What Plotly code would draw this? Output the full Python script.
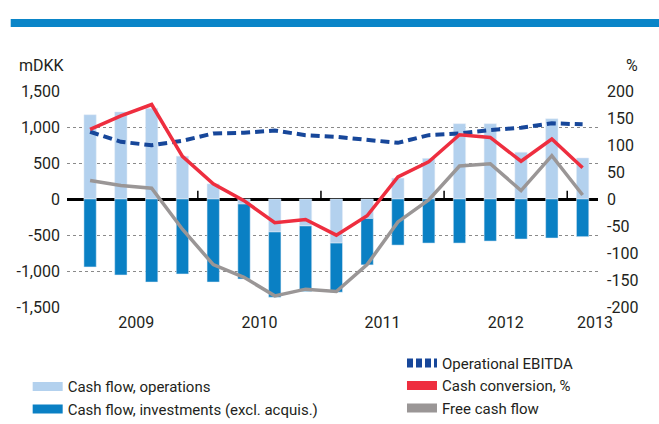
import plotly.graph_objects as go

# ---------------- data ----------------
quarters = ["Q1 2009", "Q2 2009", "Q3 2009", "Q4 2009",
            "Q1 2010", "Q2 2010", "Q3 2010", "Q4 2010",
            "Q1 2011", "Q2 2011", "Q3 2011", "Q4 2011",
            "Q1 2012", "Q2 2012", "Q3 2012", "Q4 2012",
            "Q1 2013"]
cash_flow_operations = [1170, 1210, 1260, 595, 210, -70, -458, -374, -612,
                        -271, 290, 565, 1046, 1046, 649, 1115, 570]
cash_flow_investments = [-943, -1055, -1153, -1041, -1153, -1041, -906, -910, -682,
                         -644, -640, -612, -612, -584, -556, -542, -523]
operational_ebitda = [934, 794, 747, 808, 910, 920, 950, 887, 864,
                      817, 780, 887, 910, 957, 990, 1051, 1037]
cash_conversion_pct = [129, 154, 175, 79, 28, -3, -44, -38, -67,
                       -31, 41, 69, 119, 114, 70, 111, 58]
free_cash_flow = [257, 187, 150, -420, -911, -1088, -1345, -1252, -1284,
                  -911, -318, -14, 458, 490, 117, 602, 56]

year_labels = ["2009", "2010", "2011", "2012", "2013"]
left_tick_vals = [1500, 1000, 500, 0, -500, -1000, -1500]
left_tick_text = ["1,500", "1,000", "500", "0", "-500", "-1,000", "-1,500"]
right_tick_vals = [200, 150, 100, 50, 0, -50, -100, -150, -200]
right_tick_text = ["200", "150", "100", "50", "0", "-50", "-100", "-150", "-200"]

# ---------------- styling ----------------
C_OPS = "#b3d1ee"
C_INV = "#0a80c4"
C_EBITDA = "#17479a"
C_CONV = "#ee2e3f"
C_FCF = "#9a9696"
C_TEXT = "#231f20"
FONT = "Liberation Sans Narrow, Roboto, sans-serif"

x = list(range(len(quarters)))

# year label positions: centre of each year's quarters
year_pos = []
for yl in year_labels:
    idx = [i for i, q in enumerate(quarters) if q.endswith(yl)]
    year_pos.append(sum(idx) / len(idx))
year_pos[-1] += 0.4
# year boundaries
bounds = [i - 0.5 for i in range(1, len(quarters)) if quarters[i][-4:] != quarters[i - 1][-4:]]

fig = go.Figure()
fig.add_trace(go.Bar(x=x, y=cash_flow_operations, marker_color=C_OPS, width=0.4,
                     name="Cash flow, operations", showlegend=False))
fig.add_trace(go.Bar(x=x, y=cash_flow_investments, marker_color=C_INV, width=0.4,
                     name="Cash flow, investments (excl. acquis.)", showlegend=False))
fig.add_trace(go.Scatter(x=x, y=free_cash_flow, mode="lines",
                         line=dict(color=C_FCF, width=3.5), name="Free cash flow",
                         showlegend=False))
fig.add_trace(go.Scatter(x=x, y=operational_ebitda, mode="lines",
                         line=dict(color=C_EBITDA, width=4, dash="9px,5px"),
                         name="Operational EBITDA", showlegend=False))
fig.add_trace(go.Scatter(x=x, y=cash_conversion_pct, mode="lines", yaxis="y2",
                         line=dict(color=C_CONV, width=3.5), name="Cash conversion, %",
                         showlegend=False))

# legend-only swatches
def swatch(name, color, legend, dash="solid"):
    fig.add_trace(go.Scatter(x=[None], y=[None], mode="lines", name=name,
                             line=dict(color=color, width=9, dash=dash),
                             legend=legend, showlegend=True))

swatch("Cash flow, operations", C_OPS, "legend")
swatch("Cash flow, investments (excl. acquis.)", C_INV, "legend")
swatch("Operational EBITDA", C_EBITDA, "legend2", dash="6px,3px")
swatch("Cash conversion, %", C_CONV, "legend2")
swatch("Free cash flow", C_FCF, "legend2")

for b in bounds:
    fig.add_shape(type="line", xref="x", yref="y", x0=b, x1=b, y0=0, y1=115,
                  line=dict(color="black", width=1.5))

# top blue band
fig.add_shape(type="rect", xref="paper", yref="paper", layer="above",
              x0=-0.106, x1=1.2, y0=1.296, y1=1.333,
              fillcolor="#0a85c8", line=dict(width=0))

fig.add_annotation(text="mDKK", xref="paper", yref="paper", x=-0.048, y=1.12,
                   xanchor="center", yanchor="middle",
                   showarrow=False, font=dict(size=16, color=C_TEXT, family=FONT))
fig.add_annotation(text="%", xref="paper", yref="paper", x=1.064, y=1.12,
                   xanchor="center", yanchor="middle",
                   showarrow=False, font=dict(size=16, color=C_TEXT, family=FONT))

fig.update_layout(
    width=659, height=424,
    margin=dict(l=67, r=61, t=91, b=117, autoexpand=False),
    paper_bgcolor="white", plot_bgcolor="white",
    barmode="relative",
    font=dict(family=FONT, size=16, color=C_TEXT),
    xaxis=dict(range=[-0.75, 16.5], tickvals=year_pos, ticktext=year_labels,
               showgrid=False, zeroline=False, showline=False, ticks="",
               ticklabelstandoff=4, tickfont=dict(size=16), automargin=False),
    yaxis=dict(range=[-1500, 1500], tickvals=left_tick_vals, ticktext=left_tick_text,
               showgrid=True, gridcolor="#8a8a8a", griddash="dot", gridwidth=1,
               zeroline=True, zerolinecolor="black", zerolinewidth=3,
               showline=False, ticks="", ticklabelstandoff=6, automargin=False),
    yaxis2=dict(range=[-200, 200], tickvals=right_tick_vals, ticktext=right_tick_text,
                overlaying="y", side="right", showgrid=False, zeroline=False,
                showline=False, ticks="", ticklabelstandoff=8, automargin=False),
    legend=dict(xref="container", yref="container", x=0.042, y=0.127,
                xanchor="left", yanchor="top",
                bgcolor="rgba(0,0,0,0)", font=dict(size=15), tracegroupgap=0),
    legend2=dict(xref="container", yref="container", x=0.61, y=0.182,
                 xanchor="left", yanchor="top",
                 bgcolor="rgba(0,0,0,0)", font=dict(size=15), tracegroupgap=0),
)

fig.write_html("out.html", config={"displayModeBar": False},
               post_script="document.body.style.margin='0';document.body.style.padding='0';")
